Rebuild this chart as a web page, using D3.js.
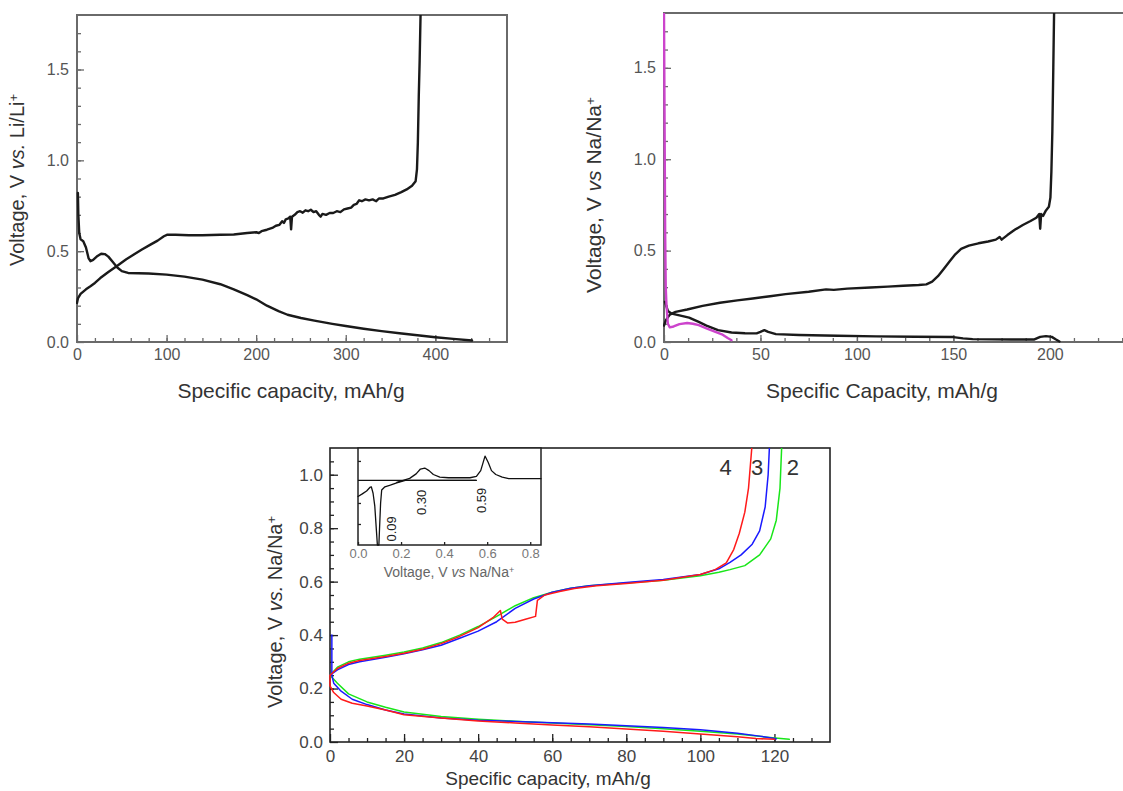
<!DOCTYPE html>
<html lang="en">
<head>
<meta charset="utf-8">
<title>Charge/discharge profiles</title>
<script src="https://cdn.jsdelivr.net/npm/d3@7"></script>
<style>
  body { margin: 0; background: #fff; }
  text { font-family: "Liberation Sans", Arial, sans-serif; }
</style>
</head>
<body>
<div id="chart"></div>
<script>
// ---- data: [capacity mAh/g, voltage V] ----
var liDischarge = [[1,0.82],[1.5,0.7],[2.5,0.6],[4,0.565],[7,0.555],[10,0.52],[13,0.46],[15,0.445],[18,0.452],[22,0.47],[27,0.486],[31,0.484],[35,0.47],[40,0.44],[45,0.41],[50,0.39],[57,0.38],[80,0.377],[100,0.371],[120,0.36],[140,0.343],[160,0.318],[175,0.29],[190,0.258],[200,0.235],[212,0.2],[225,0.17],[235,0.15],[250,0.132],[265,0.118],[285,0.1],[300,0.088],[320,0.073],[340,0.06],[360,0.048],[380,0.037],[400,0.026],[420,0.017],[441,0.008]];
var liCharge = [[0,0.215],[1,0.24],[4,0.265],[10,0.29],[15,0.307],[20,0.325],[26,0.352],[35,0.385],[45,0.42],[55,0.455],[63,0.48],[72,0.508],[82,0.536],[90,0.558],[97,0.582],[101,0.591],[110,0.59],[125,0.588],[140,0.588],[160,0.59],[175,0.592],[190,0.6],[200,0.604],[203,0.6],[206,0.61],[212,0.618],[218,0.628],[222,0.64],[226,0.645],[229,0.665],[231,0.655],[233,0.675],[236,0.68],[238,0.69],[239,0.62],[240,0.69],[243,0.7],[246,0.715],[249,0.72],[252,0.712],[255,0.725],[258,0.72],[261,0.728],[264,0.715],[267,0.72],[270,0.7],[272,0.69],[274,0.705],[278,0.7],[282,0.71],[286,0.71],[290,0.72],[294,0.715],[298,0.73],[302,0.735],[306,0.74],[309,0.755],[312,0.76],[315,0.78],[318,0.775],[322,0.785],[326,0.78],[330,0.785],[334,0.775],[337,0.79],[342,0.79],[348,0.8],[355,0.81],[362,0.825],[368,0.84],[374,0.86],[378,0.885],[379.5,0.95],[380.5,1.1],[381.5,1.35],[382.5,1.55],[383.5,1.8]];

var naFirst = [[0,1.8],[0.3,1.2],[0.6,0.6],[0.9,0.3],[1.3,0.2],[2,0.1],[3,0.08],[5,0.085],[8,0.098],[12,0.104],[15,0.1],[18,0.092],[22,0.075],[26,0.058],[30,0.042],[33,0.022],[35,0.01]];
var naDischarge = [[0.5,0.22],[2,0.17],[4,0.155],[8,0.146],[13,0.133],[18,0.11],[22,0.09],[28,0.065],[35,0.052],[42,0.048],[48,0.047],[50,0.055],[52,0.065],[54,0.055],[58,0.043],[70,0.038],[90,0.034],[110,0.031],[130,0.029],[150,0.027],[155,0.02],[160,0.016],[180,0.014],[192,0.014],[195,0.028],[198,0.032],[201,0.028],[203,0.015],[205,0.003]];
var naCharge = [[0,0.09],[1,0.12],[3,0.15],[6,0.165],[12,0.178],[20,0.198],[29,0.215],[38,0.228],[46,0.238],[55,0.25],[63,0.262],[75,0.275],[84,0.288],[88,0.285],[95,0.292],[107,0.298],[116,0.303],[124,0.308],[132,0.312],[136,0.315],[139,0.33],[142,0.36],[145,0.4],[148,0.44],[151,0.48],[154,0.51],[158,0.527],[163,0.54],[168,0.55],[172,0.56],[174,0.575],[175,0.56],[178,0.585],[182,0.615],[186,0.64],[190,0.662],[193,0.68],[194.5,0.7],[195,0.62],[195.5,0.7],[196.5,0.69],[198,0.72],[199.5,0.74],[200.3,0.79],[200.8,0.93],[201.3,1.15],[201.8,1.5],[202.2,1.8]];

// bottom panel: cycles 2 (green), 3 (blue), 4 (red)
var cycleNames = ["2", "3", "4"];
var c2Charge = [[0,0.25],[2,0.28],[5,0.3],[8,0.31],[15,0.325],[20,0.337],[25,0.352],[30,0.372],[35,0.4],[40,0.432],[45,0.47],[50,0.51],[55,0.54],[60,0.56],[65,0.575],[70,0.585],[80,0.595],[90,0.605],[100,0.622],[105,0.635],[108,0.645],[112,0.66],[116,0.7],[119,0.76],[120.5,0.83],[121.5,0.95],[122,1.12]];
var c3Charge = [[0,0.25],[2,0.27],[5,0.29],[8,0.3],[15,0.317],[20,0.33],[25,0.345],[30,0.362],[35,0.388],[40,0.415],[45,0.45],[50,0.5],[55,0.535],[60,0.56],[65,0.575],[70,0.585],[80,0.597],[90,0.608],[100,0.627],[105,0.648],[108,0.672],[111,0.7],[114,0.74],[116,0.79],[117.5,0.88],[118.3,1.0],[118.7,1.12]];
var c4Charge = [[0,0.25],[2,0.275],[5,0.295],[8,0.305],[15,0.32],[20,0.332],[25,0.347],[30,0.368],[35,0.395],[40,0.428],[44,0.465],[46,0.492],[46.5,0.46],[48,0.445],[50,0.448],[53,0.46],[55.5,0.47],[56,0.53],[58,0.55],[62,0.563],[66,0.574],[72,0.585],[80,0.593],[90,0.605],[100,0.627],[104,0.645],[107,0.67],[109,0.72],[110.5,0.78],[112,0.86],[113,0.95],[114,1.12]];
var c2Discharge = [[0,0.25],[2,0.22],[5,0.18],[10,0.15],[15,0.13],[20,0.112],[30,0.095],[40,0.085],[50,0.078],[60,0.071],[70,0.065],[80,0.058],[90,0.05],[100,0.04],[110,0.03],[118,0.018],[124,0.01]];
var c3Discharge = [[0.5,0.4],[0.5,0.25],[1,0.22],[3,0.19],[6,0.16],[10,0.14],[15,0.12],[20,0.105],[30,0.09],[40,0.081],[50,0.077],[60,0.072],[70,0.067],[80,0.061],[90,0.054],[100,0.046],[110,0.033],[116,0.022],[120.5,0.012]];
var c4Discharge = [[0,0.25],[0,0.21],[1,0.185],[3,0.16],[6,0.145],[10,0.135],[15,0.12],[20,0.102],[30,0.09],[40,0.079],[50,0.071],[60,0.064],[70,0.057],[80,0.049],[90,0.04],[100,0.03],[110,0.02],[115,0.013],[120,0.01]];

// inset: differential curve, [voltage V, intensity a.u.]
var insetDischarge = [[0,-0.5],[0.02,-0.42],[0.04,-0.33],[0.055,-0.22],[0.062,-0.2],[0.07,-0.4],[0.078,-0.8],[0.085,-1.5],[0.09,-2.0],[0.097,-2.0],[0.1,-1.5],[0.105,-0.7],[0.11,-0.3],[0.125,-0.2],[0.15,-0.15],[0.18,-0.08],[0.2,-0.04],[0.22,0],[0.55,0]];
var insetCharge = [[0.18,-0.06],[0.21,0],[0.24,0.06],[0.27,0.2],[0.29,0.35],[0.31,0.38],[0.33,0.3],[0.35,0.18],[0.38,0.1],[0.42,0.08],[0.52,0.08],[0.55,0.12],[0.57,0.3],[0.59,0.75],[0.605,0.55],[0.62,0.3],[0.64,0.18],[0.67,0.1],[0.7,0.05],[0.85,0.05]];
var insetPeaks = [0.09, 0.30, 0.59];

var W = 1123, H = 791;
var svg = d3.select("#chart").append("svg").attr("width", W).attr("height", H);

var clipId = 0;

// one framed panel with inward major/minor ticks
function panel(o) {
    var g = svg.append("g").attr("transform", "translate(" + o.left + "," + o.top + ")");
    var w = o.right - o.left, h = o.bottom - o.top;
    var x = d3.scaleLinear().domain(o.xDomain).range([0, w]);
    var y = d3.scaleLinear().domain(o.yDomain).range([h, 0]);

    if (o.fill) g.append("rect").attr("width", w).attr("height", h).attr("fill", "#fff");

    // minor ticks
    g.append("g").attr("transform", "translate(0," + h + ")")
        .call(d3.axisBottom(x).tickValues(o.xMinor).tickSize(-o.minor).tickFormat(""));
    g.append("g")
        .call(d3.axisLeft(y).tickValues(o.yMinor).tickSize(-o.minor).tickFormat(""));
    // major ticks
    g.append("g").attr("transform", "translate(0," + h + ")")
        .call(d3.axisBottom(x).tickValues(o.xMajor).tickSize(-o.major).tickPadding(o.xPad).tickFormat(o.xFmt));
    g.append("g")
        .call(d3.axisLeft(y).tickValues(o.yMajor).tickSize(-o.major).tickPadding(o.yPad).tickFormat(o.yFmt));

    g.selectAll(".domain").remove();
    g.selectAll(".tick line").attr("stroke", o.frameColor).attr("stroke-width", 1.3);
    g.selectAll(".tick text").attr("fill", o.tickColor).style("font-size", o.tickSize + "px")
        .style("font-family", '"Liberation Sans", Arial, sans-serif');

    g.append("rect").attr("width", w).attr("height", h)
        .attr("fill", "none").attr("stroke", o.frameColor).attr("stroke-width", o.frameWidth);

    clipId++;
    g.append("clipPath").attr("id", "clip" + clipId)
        .append("rect").attr("x", -1).attr("y", 0).attr("width", w + 2).attr("height", h + 1);
    var plot = g.append("g").attr("clip-path", "url(#clip" + clipId + ")");

    return { g: g, plot: plot, x: x, y: y, w: w, h: h };
}

function drawLine(p, data, color, width) {
    var line = d3.line().x(function (d) { return p.x(d[0]); }).y(function (d) { return p.y(d[1]); });
    p.plot.append("path").datum(data).attr("d", line)
        .attr("fill", "none").attr("stroke", color).attr("stroke-width", width)
        .attr("stroke-linejoin", "round").attr("stroke-linecap", "round");
}

// rotated y title "Voltage, V vs. X/X+"
function yTitle(cx, cy, size, vs, ion, color) {
    var t = svg.append("text").attr("transform", "translate(" + cx + "," + cy + ") rotate(-90)")
        .attr("text-anchor", "middle").attr("fill", color).style("font-size", size + "px");
    t.append("tspan").text("Voltage, V ");
    t.append("tspan").style("font-style", "italic").text(vs);
    t.append("tspan").text(" " + ion);
    t.append("tspan").attr("dy", "-0.45em").style("font-size", (size * 0.65) + "px").text("+");
}

function xTitle(cx, cy, size, label, color) {
    svg.append("text").attr("x", cx).attr("y", cy).attr("text-anchor", "middle")
        .attr("fill", color).style("font-size", size + "px").text(label);
}

var fmt1 = d3.format(".1f");

// ---- top left: Li ----
var pA = panel({
    left: 77, right: 507, top: 15, bottom: 342,
    xDomain: [0, 480], yDomain: [0, 1.8],
    xMajor: [0, 100, 200, 300, 400], xMinor: d3.range(20, 480, 20),
    yMajor: [0, 0.5, 1.0, 1.5], yMinor: d3.range(0.1, 1.8, 0.1),
    xFmt: d3.format("d"), yFmt: fmt1, xPad: 7, yPad: 8,
    major: 7, minor: 4, frameColor: "#6a6a6a", frameWidth: 2,
    tickColor: "#555", tickSize: 16
});
drawLine(pA, liDischarge, "#1a1a1a", 2.4);
drawLine(pA, liCharge, "#1a1a1a", 2.4);
yTitle(24, 180, 20, "vs.", "Li/Li", "#333");
xTitle(291, 398, 21, "Specific capacity, mAh/g", "#333");

// ---- top right: Na ----
var pB = panel({
    left: 664, right: 1127, top: 13, bottom: 342,
    xDomain: [0, 240], yDomain: [0, 1.8],
    xMajor: [0, 50, 100, 150, 200], xMinor: d3.range(12.5, 240, 12.5),
    yMajor: [0, 0.5, 1.0, 1.5], yMinor: d3.range(0.1, 1.8, 0.1),
    xFmt: d3.format("d"), yFmt: fmt1, xPad: 7, yPad: 8,
    major: 7, minor: 4, frameColor: "#6a6a6a", frameWidth: 2,
    tickColor: "#555", tickSize: 16
});
drawLine(pB, naDischarge, "#1a1a1a", 2.4);
drawLine(pB, naCharge, "#1a1a1a", 2.4);
drawLine(pB, naFirst, "#cc44cc", 2.4);
yTitle(601, 195, 21, "vs", "Na/Na", "#333");
xTitle(882, 398, 21, "Specific Capacity, mAh/g", "#333");

// ---- bottom: cycles ----
var pC = panel({
    left: 330, right: 830, top: 448, bottom: 742,
    xDomain: [0, 135], yDomain: [0, 1.1],
    xMajor: d3.range(0, 121, 20), xMinor: d3.range(5, 135, 5),
    yMajor: d3.range(0, 1.01, 0.2), yMinor: d3.range(0.05, 1.1, 0.05),
    xFmt: d3.format("d"), yFmt: fmt1, xPad: 8, yPad: 7,
    major: 8, minor: 4, frameColor: "#222", frameWidth: 1.6,
    tickColor: "#444", tickSize: 17
});
var cycleColors = { "2": "#19e619", "3": "#1a1aff", "4": "#ff1a1a" };
var cycleData = { "2": [c2Charge, c2Discharge], "3": [c3Charge, c3Discharge], "4": [c4Charge, c4Discharge] };
cycleNames.forEach(function (c) {
    cycleData[c].forEach(function (d) { drawLine(pC, d, cycleColors[c], 1.5); });
});
// cycle numbers beside the curve ends
var tagX = { "4": 106.8, "3": 115.3, "2": 125 };
cycleNames.forEach(function (c) {
    pC.g.append("text").attr("x", pC.x(tagX[c])).attr("y", pC.y(1.0))
        .attr("text-anchor", "middle").attr("fill", "#333").style("font-size", "22px").text(c);
});
yTitle(282, 612, 20, "vs.", "Na/Na", "#333");
xTitle(548, 785, 19, "Specific capacity, mAh/g", "#333");

// ---- inset ----
var pI = panel({
    left: 358, right: 541, top: 448, bottom: 545,
    xDomain: [0, 0.85], yDomain: [-2, 1],
    xMajor: [0, 0.2, 0.4, 0.6, 0.8], xMinor: [],
    yMajor: [-1.35, -0.7, 0.6], yMinor: [],
    xFmt: fmt1, yFmt: "", xPad: 4, yPad: 4,
    major: 3, minor: 2, frameColor: "#222", frameWidth: 1.5,
    tickColor: "#777", tickSize: 13, fill: true
});
pI.g.selectAll(".tick text").filter(function () { return this.textContent === ""; }).remove();
pI.plot.append("line").attr("x1", 0).attr("x2", pI.x(0.55)).attr("y1", pI.y(0)).attr("y2", pI.y(0))
    .attr("stroke", "#111").attr("stroke-width", 1.3);
drawLine(pI, insetDischarge, "#111", 1.3);
drawLine(pI, insetCharge, "#111", 1.3);
var peakShift = [0.067, -0.004, -0.015];
var peakY = [-1.5, -0.68, -0.62];
insetPeaks.forEach(function (v, i) {
    pI.g.append("text")
        .attr("transform", "translate(" + (pI.x(v + peakShift[i]) + 4) + "," + pI.y(peakY[i]) + ") rotate(-90)")
        .attr("text-anchor", "middle").attr("fill", "#222").style("font-size", "13px")
        .text(d3.format(".2f")(v));
});
var it = svg.append("text").attr("x", 449).attr("y", 577).attr("text-anchor", "middle")
    .attr("fill", "#666").style("font-size", "14px");
it.append("tspan").text("Voltage, V ");
it.append("tspan").style("font-style", "italic").text("vs");
it.append("tspan").text(" Na/Na");
it.append("tspan").attr("dy", "-0.45em").style("font-size", "9px").text("+");
</script>
</body>
</html>
